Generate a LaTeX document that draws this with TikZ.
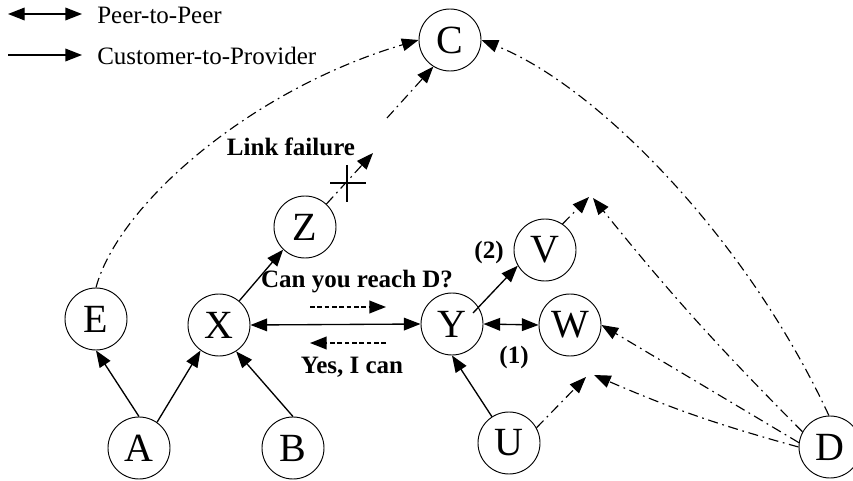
\documentclass[tikz,border=0pt]{standalone}
\usepackage{fontspec}
\setmainfont{Liberation Serif}
\usetikzlibrary{arrows.meta,calc}
\begin{document}
\begin{tikzpicture}[x=0.75pt,y=-0.75pt,
 tip/.tip={Triangle[length=12.5pt,width=9.5pt]},
 nd/.style={circle,draw,line width=0.7pt,minimum size=46.5pt,inner sep=0pt,font=\fontsize{30}{31}\selectfont},
 cp/.style={line width=1pt,-tip},
 pp/.style={line width=1pt,tip-tip},
 dd/.style={line width=0.85pt,dash pattern=on 7.5pt off 3.5pt on 1.3pt off 3.5pt,-tip},
 msg/.style={line width=1.4pt,dash pattern=on 3.5pt off 2pt,-tip},
 lbl/.style={font=\bfseries\fontsize{18.75}{20}\selectfont,inner sep=0pt},
 leg/.style={font=\fontsize{18.75}{20}\selectfont,inner sep=0pt,anchor=west}]
\useasboundingbox (0,0) rectangle (853,481);

% legend
\coordinate (l1a) at (8,14);
\coordinate (l1b) at (82,14);
\coordinate (l2a) at (8,55);
\coordinate (l2b) at (82,55);
\draw[pp] (l1a) -- (l1b);
\draw[cp] (l2a) -- (l2b);
\node[leg] (t1) at (97,15) {Peer-to-Peer};
\node[leg] (t2) at (97,56) {Customer-to-Provider};

% nodes
\node[nd] (C) at (450,40) {C};
\node[nd] (Z) at (305,227) {Z};
\node[nd] (E) at (96,319) {E};
\node[nd] (X) at (219,325) {X};
\node[nd] (Y) at (452,324) {Y};
\node[nd] (V) at (545,250) {V};
\node[nd] (W) at (570,325) {W};
\node[nd] (A) at (139,448) {A};
\node[nd] (B) at (293,448) {B};
\node[nd] (U) at (509,443) {U};
\node[nd] (D) at (830,447) {D};

% labels
\node[lbl] (lf) at (291,147) {Link failure};
\node[lbl] (q) at (357,282) {Can you reach D?};
\node[lbl] (ans) at (352,367) {Yes, I can};
\node[lbl] (n2) at (489,252) {(2)};
\node[lbl] (n1) at (514,357) {(1)};

% solid relations
\draw[cp] (A.90) -- (E.-90);
\draw[cp] (A.55) -- (X.-126);
\draw[cp] (B.90) -- (X.-57);
\draw[cp] (X.50) -- (Z.-134);
\draw[pp] (X.0) -- (Y.180);
\draw[cp] ([shift={(21,-11)}]Y.center) -- (V.210);
\draw[pp] (Y.0) -- (W.180);
\draw[cp] (U.123) -- (Y.-90);

% messages
\coordinate (m1a) at (310,307);
\coordinate (m1b) at (386,307);
\coordinate (m2a) at (386,343);
\coordinate (m2b) at (310,343);
\draw[msg] (m1a) -- (m1b);
\draw[msg] (m2a) -- (m2b);

% link failure
\coordinate (tZ) at (373,153);
\coordinate (cut) at (347,183);
\coordinate (rs) at (387,118);
\draw[dd] (Z.47) -- (tZ);
\draw[line width=1.5pt] ($(cut)+(0,-18)$) -- ($(cut)+(0,19)$);
\draw[line width=1.5pt] ($(cut)+(-17,0)$) -- ($(cut)+(19,0)$);
\draw[dd] (rs) -- (C.238);

% dash-dot paths
\draw[dd] (E.90) .. controls (118,205) and (250,90) .. (C.180);
\draw[dd] (D.92) .. controls (745,235) and (595,85) .. (C.0);
\coordinate (tV) at (589,197);
\coordinate (tV2) at (593,198);
\coordinate (tU) at (586,377);
\coordinate (tU2) at (594,375);
\draw[dd] (V.56) -- (tV);
\draw[dd] (D.151) to[bend left=3] (tV2);
\draw[dd] (D.172) -- (W.0);
\draw[dd] (U.29) -- (tU);
\draw[dd] (D.180) to[bend left=4] (tU2);
\end{tikzpicture}
\end{document}
